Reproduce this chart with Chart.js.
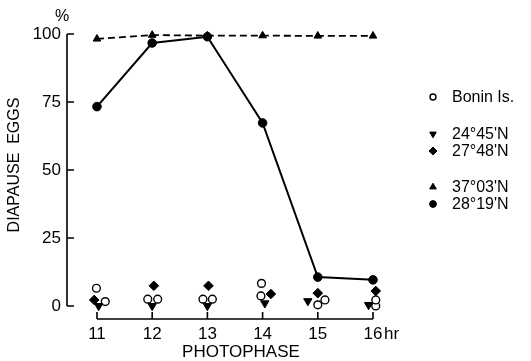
<!DOCTYPE html>
<html>
<head>
<meta charset="UTF-8">
<title>Diapause eggs vs photophase</title>
<script src="https://cdn.jsdelivr.net/npm/chart.js@4"></script>
<style>
  body { margin: 0; background: #fff; }
  canvas { display: block; }
</style>
</head>
<body>
<canvas id="chart" width="531" height="361"></canvas>
<script>
// photophase (hr) and % diapause eggs
const photophase = [11, 12, 13, 14, 15, 16];
const yTicks = [0, 25, 50, 75, 100];

const n3703 = [98.2, 99.6, 99.4, 99.4, 99.3, 99.3];   // 37°03'N, dashed
const n2819 = [73.3, 96.7, 99.0, 67.3, 10.6, 9.6];    // 28°19'N, solid
const n2445 = [0, 0, 0, 1.0, 1.8, 0.4];               // 24°45'N
const n2748 = [2.2, 7.4, 7.4, 4.4, 4.7, 5.5];         // 27°48'N
const boninA = [6.5, 2.5, 2.5, 8.3, 0.4, 2.2];        // Bonin Is. (two lots)
const boninB = [1.6, 2.5, 2.5, 3.7, 2.2, 0];

// small sideways shifts used in the original so overlapping symbols stay visible
const shift2445 = [0.03, 0, 0, 0.04, -0.18, -0.08];
const shift2748 = [-0.05, 0.03, 0.02, 0.15, 0, 0.05];
const shiftBoninA = [-0.01, -0.08, -0.08, -0.02, 0, 0.05];
const shiftBoninB = [0.15, 0.1, 0.09, -0.03, 0.13, 0.05];

const FONT = '"Liberation Sans", Arial, sans-serif';

function pts(vals, shifts) {
  return photophase.map((p, i) => ({ x: p + (shifts ? shifts[i] : 0), y: vals[i] }));
}

const dsBonin = {
  label: 'Bonin Is.', data: pts(boninA, shiftBoninA), showLine: false,
  pointStyle: 'circle', pointRadius: 3.9, pointBackgroundColor: '#fff',
  pointBorderColor: '#000', pointBorderWidth: 1.4, clip: false
};
const dsBonin2 = Object.assign({}, dsBonin, { data: pts(boninB, shiftBoninB) });
const ds2445 = {
  label: '24°45\'N', data: pts(n2445, shift2445), showLine: false,
  pointStyle: 'triangle', pointRotation: 180, pointRadius: 4.8,
  pointBackgroundColor: '#000', pointBorderColor: '#000', pointBorderWidth: 1, clip: false
};
const ds2748 = {
  label: '27°48\'N', data: pts(n2748, shift2748), showLine: false,
  pointStyle: 'rectRot', pointRadius: 4.8,
  pointBackgroundColor: '#000', pointBorderColor: '#000', pointBorderWidth: 1, clip: false
};
const ds3703 = {
  label: '37°03\'N', data: pts(n3703), showLine: true,
  borderColor: '#000', borderWidth: 1.8, borderDash: [7, 4],
  pointStyle: 'triangle', pointRadius: 4.4,
  pointBackgroundColor: '#000', pointBorderColor: '#000', pointBorderWidth: 1, clip: false
};
const ds2819 = {
  label: '28°19\'N', data: pts(n2819), showLine: true,
  borderColor: '#000', borderWidth: 2,
  pointStyle: 'circle', pointRadius: 4.3,
  pointBackgroundColor: '#000', pointBorderColor: '#000', pointBorderWidth: 1, clip: false
};

// legend rows: [dataset, y position, marker size]
const legendRows = [
  [dsBonin, 97, 3],
  [ds2445, 134, 3.8],
  [ds2748, 151, 4],
  [ds3703, 187, 3.8],
  [ds2819, 204, 3.4]
];

function drawAxes(chart) {
  const { ctx, chartArea, scales: { x, y } } = chart;
  ctx.save();
  ctx.setLineDash([]);
  ctx.strokeStyle = '#000';
  ctx.lineWidth = 1.6;
  ctx.beginPath();
  // y axis: 0..100 with ticks pointing inwards
  ctx.moveTo(chartArea.left, y.getPixelForValue(100));
  ctx.lineTo(chartArea.left, y.getPixelForValue(0));
  yTicks.forEach(v => {
    const py = y.getPixelForValue(v);
    ctx.moveTo(chartArea.left, py);
    ctx.lineTo(chartArea.left + 7, py);
  });
  // x axis: 11..16, ticks pointing up
  const xb = chartArea.bottom;
  ctx.moveTo(x.getPixelForValue(photophase[0]), xb);
  ctx.lineTo(x.getPixelForValue(photophase[photophase.length - 1]), xb);
  photophase.forEach(v => {
    const px = x.getPixelForValue(v);
    ctx.moveTo(px, xb);
    ctx.lineTo(px, xb - 7);
  });
  ctx.stroke();
  ctx.restore();
}

const paperAxes = {
  id: 'paperAxes',
  afterDraw(chart) {
    drawAxes(chart);
    const { ctx, scales: { x, y } } = chart;
    ctx.save();
    ctx.fillStyle = '#000';
    ctx.textBaseline = 'middle';

    // axis titles and units
    ctx.font = '16px ' + FONT;
    ctx.textAlign = 'center';
    ctx.fillText('%', 62, y.getPixelForValue(100) - 17);
    ctx.font = '17px ' + FONT;
    ctx.fillText('PHOTOPHASE', 241, 352);
    ctx.textAlign = 'left';
    ctx.fillText('hr', x.getPixelForValue(16) + 11, 334);
    ctx.save();
    ctx.translate(15, 165);
    ctx.rotate(-Math.PI / 2);
    ctx.textAlign = 'center';
    ctx.font = '16px ' + FONT;
    ctx.fillText('DIAPAUSE  EGGS', 0, 0);
    ctx.restore();

    // legend
    ctx.font = '16px ' + FONT;
    ctx.textAlign = 'left';
    legendRows.forEach(([ds, ly, r]) => {
      ctx.fillStyle = ds.pointBackgroundColor;
      ctx.strokeStyle = ds.pointBorderColor;
      ctx.lineWidth = ds.pointBorderWidth;
      Chart.helpers.drawPoint(ctx, {
        pointStyle: ds.pointStyle, radius: r,
        rotation: ds.pointRotation || 0, borderWidth: ds.pointBorderWidth
      }, 433, ly);
      ctx.fillStyle = '#000';
      ctx.fillText(ds.label, 452, ly + 1);
    });
    ctx.restore();
  }
};

new Chart(document.getElementById('chart'), {
  type: 'scatter',
  data: { datasets: [ds2819, ds3703, ds2748, ds2445, dsBonin, dsBonin2] },
  options: {
    responsive: false,
    animation: false,
    layout: { padding: { top: 34, right: 158, bottom: 0, left: 0 } },
    plugins: { legend: { display: false }, tooltip: { enabled: false } },
    scales: {
      x: {
        type: 'linear', min: 10.457, max: 16,
        grid: { display: false, drawTicks: false, tickLength: 0 }, border: { display: false },
        afterBuildTicks: s => { s.ticks = photophase.map(v => ({ value: v })); },
        afterFit: s => { s.height = 42; },
        ticks: { color: '#000', padding: 5, font: { family: FONT, size: 17 }, callback: v => String(v) }
      },
      y: {
        min: -4.8, max: 100,
        grid: { display: false, drawTicks: false, tickLength: 0 }, border: { display: false },
        afterBuildTicks: s => { s.ticks = yTicks.map(v => ({ value: v })); },
        afterFit: s => { s.width = 67; },
        ticks: { color: '#000', padding: 6, font: { family: FONT, size: 17 }, callback: v => String(v) }
      }
    }
  },
  plugins: [paperAxes]
});
</script>
</body>
</html>
